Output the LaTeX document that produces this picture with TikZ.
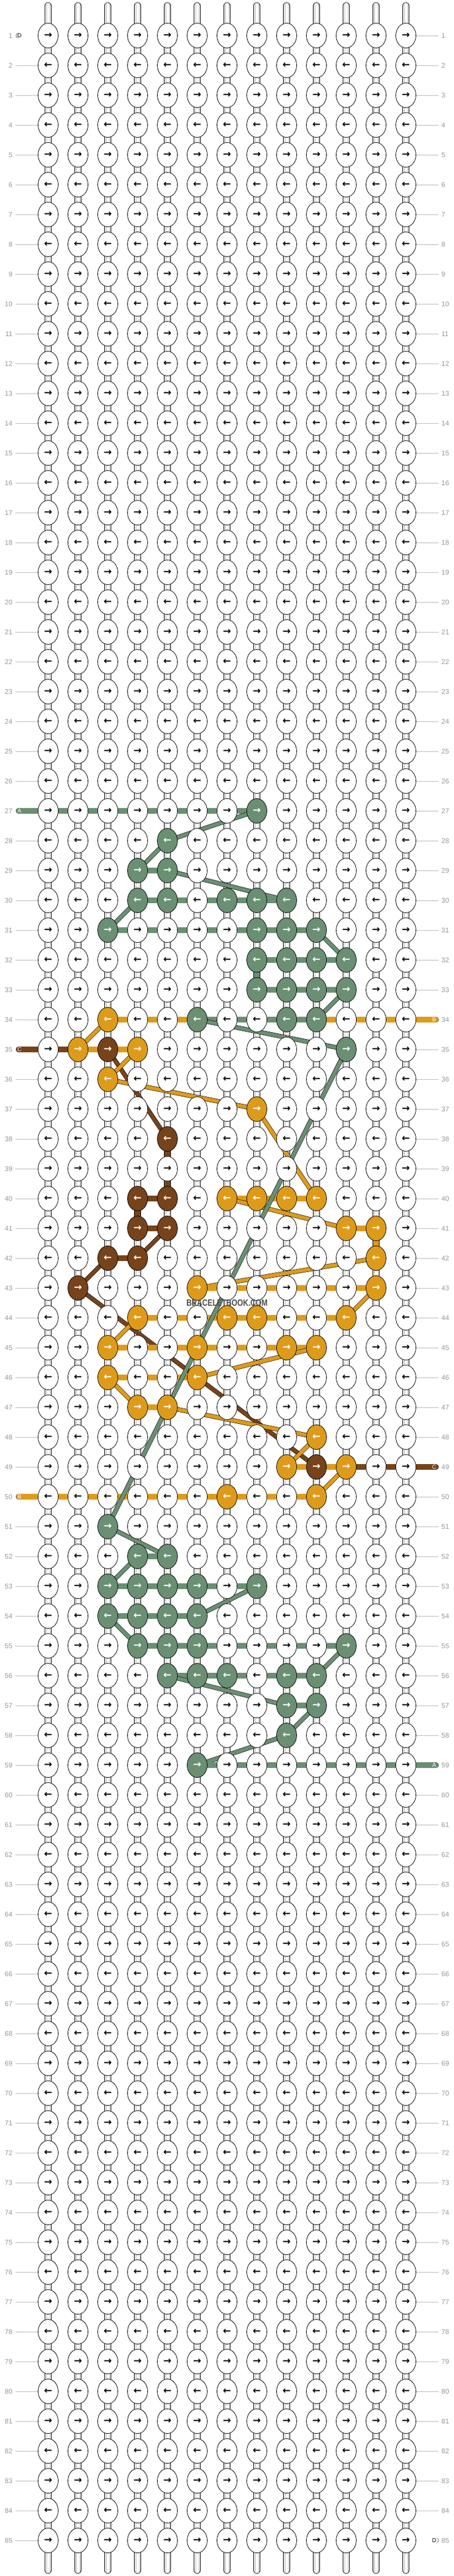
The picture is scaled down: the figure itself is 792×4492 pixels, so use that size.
\documentclass[tikz,border=0pt]{standalone}
\usepackage{fontspec}
\setmainfont{Liberation Sans}
\newfontfamily\arrowfont{DejaVu Sans}
\usetikzlibrary{shapes.geometric,backgrounds}

\definecolor{grn}{HTML}{6A8F73}
\definecolor{org}{HTML}{DE9B1A}
\definecolor{brn}{HTML}{76431B}
\definecolor{labgray}{HTML}{999999}
\definecolor{linegray}{HTML}{BBBBBB}
\definecolor{wm}{HTML}{4D4D4D}

\tikzset{knot/.style = {shape=ellipse,draw,line width=0.8pt,minimum width=35pt,minimum height=43pt,inner sep=0pt,fill=white,font=\arrowfont\bfseries\fontsize{17}{17}\selectfont}}
\tikzset{hbar/.style = {double=white,double distance=9.5pt,line width=0.6pt}}
\tikzset{vbar/.style = {double=white,double distance=10.5pt,line width=0.6pt,line cap=round}}
\tikzset{guide/.style = {draw=linegray,line width=0.8pt}}
\tikzset{rowlab/.style = {text=labgray,font=\fontsize{12}{12}\selectfont,inner sep=0pt}}
\tikzset{tag/.style = {font=\fontsize{10}{10}\selectfont,inner sep=0pt}}
\tikzset{tail/.style = {double=#1,double distance=9.5pt,line width=0.6pt,line cap=round}}

% one piece of a coloured thread, from knot to knot
\newcommand\threadseg[5]{%
  \ifnum#2=#4\relax\def\sw{9.5pt}\else\ifnum#3=#5\relax\def\sw{10.5pt}\else\def\sw{6.5pt}\fi\fi
  \draw[double=#1,double distance=\sw,line width=0.6pt] (k-#2-#3.center) -- (k-#4-#5.center);}

% coloured knots
\foreach \r/\c in {27/8,28/5,29/4,29/5,30/4,30/5,30/7,30/8,30/9,31/3,31/8,31/9,31/10,
  32/8,32/9,32/10,32/11,33/8,33/9,33/10,33/11,34/6,34/9,34/10,35/11,51/3,52/4,52/5,
  53/3,53/4,53/5,53/6,53/8,54/3,54/4,54/5,54/6,55/4,55/5,55/6,55/11,56/5,56/6,56/7,
  56/9,56/10,57/9,57/10,58/9,59/6}{\expandafter\gdef\csname kc-\r-\c\endcsname{grn}}
\foreach \r/\c in {34/3,35/2,35/4,36/3,37/8,40/7,40/8,40/9,40/10,41/11,41/12,42/12,
  43/6,43/12,44/4,44/7,44/8,44/11,45/3,45/6,45/9,45/10,46/3,46/6,47/4,47/5,48/10,
  49/9,49/11,50/7,50/10}{\expandafter\gdef\csname kc-\r-\c\endcsname{org}}
\foreach \r/\c in {35/3,38/5,40/4,40/5,41/4,41/5,42/3,42/4,43/2,49/10}%
  {\expandafter\gdef\csname kc-\r-\c\endcsname{brn}}

\begin{document}
\begin{tikzpicture}[x=1pt,y=-1pt]
\useasboundingbox (0,0) rectangle (792,4492);

% knots, row numbers
\foreach \r in {1,...,85}{
  \foreach \c in {1,...,13}{
    \ifcsname kc-\r-\c\endcsname
      \edef\kcol{\csname kc-\r-\c\endcsname}
      \node[knot,fill=\kcol,text=white] (k-\r-\c) at ({32+52*\c},{10+52*\r}) {\ifodd\r\relax→\else←\fi};
    \else
      \node[knot] (k-\r-\c) at ({32+52*\c},{10+52*\r}) {\ifodd\r\relax→\else←\fi};
    \fi
  }
  \node[rowlab,anchor=east] (nl-\r) at (22,{10+52*\r}) {\r};
  \node[rowlab,anchor=west] (nr-\r) at (770,{10+52*\r}) {\r};
  \coordinate (gl-\r) at (27,{10+52*\r});
  \coordinate (gr-\r) at (765,{10+52*\r});
  \coordinate (L-\r) at (33,{10+52*\r});
  \coordinate (R-\r) at (760,{10+52*\r});
}
\foreach \c in {1,...,13}{
  \coordinate (top-\c) at ({32+52*\c},10);
  \coordinate (bot-\c) at ({32+52*\c},4482);
}

% thread ends
\node[tag] (tag-d1) at ([xshift=1pt]L-1) {D};
\node[tag,text=white] (tag-a1) at ([xshift=1pt]L-27) {A};
\node[tag,text=white] (tag-c1) at ([xshift=1pt]L-35) {C};
\node[tag,text=white] (tag-b1) at ([xshift=1pt]L-50) {B};
\node[tag,text=white] (tag-b2) at ([xshift=-2.5pt]R-34) {B};
\node[tag,text=white] (tag-c2) at ([xshift=-2.5pt]R-49) {C};
\node[tag,text=white] (tag-a2) at ([xshift=-2.5pt]R-59) {A};
\node[tag] (tag-d2) at ([xshift=-2.5pt]R-85) {D};

\node[text=wm,font=\bfseries\fontsize{16}{16}\selectfont] (mark) at (396,2272) {\scalebox{0.8}[1]{BRACELETBOOK.COM}};

\begin{scope}[on background layer]
  \fill[white] (0,0) rectangle (792,4492);
  % guide lines
  \foreach \r in {1,...,85}{
    \pgfmathtruncatemacro\hasl{(\r==1)||(\r==27)||(\r==35)||(\r==50)}
    \pgfmathtruncatemacro\hasr{(\r==34)||(\r==49)||(\r==59)||(\r==85)}
    \ifnum\hasl=0 \draw[guide] (gl-\r) -- (k-\r-1.west);\fi
    \ifnum\hasr=0 \draw[guide] (k-\r-13.east) -- (gr-\r);\fi
  }
  % vertical strings
  \foreach \c in {1,...,13}{
    \draw[vbar] (top-\c) -- (bot-\c);
    \draw[linegray,line width=0.5pt] ([xshift=-3pt,yshift=3pt]top-\c) -- ([xshift=-3pt,yshift=-3pt]bot-\c);
    \draw[linegray,line width=0.5pt] ([xshift=3pt,yshift=3pt]top-\c) -- ([xshift=3pt,yshift=-3pt]bot-\c);
  }
  % rows
  \foreach \r in {1,...,85}
    \draw[hbar] (k-\r-1.center) -- (k-\r-13.center);
  \draw[tail=white] (L-1) -- (k-1-1.center);
  \draw[tail=white] (k-85-13.center) -- (R-85);

  % thread C
  \draw[tail=brn] (L-35) -- (k-35-1.center);
  \draw[tail=brn] (k-49-13.center) -- (R-49);
  \foreach \ra/\ca/\rb/\cb in {35/1/35/3,35/3/38/5,38/5/40/5,40/5/40/4,40/4/41/4,
    41/4/41/5,41/5/42/4,42/4/42/3,42/3/43/2,43/2/49/10,49/10/49/13}
    {\threadseg{brn}{\ra}{\ca}{\rb}{\cb}}

  % thread B
  \draw[tail=org] (k-34-13.center) -- (R-34);
  \draw[tail=org] (L-50) -- (k-50-1.center);
  \foreach \ra/\ca/\rb/\cb in {34/13/34/3,34/3/35/2,35/2/35/4,35/4/36/3,36/3/37/8,
    37/8/40/10,40/10/40/7,40/7/41/11,41/11/41/12,41/12/42/12,42/12/43/6,43/6/43/12,
    43/12/44/11,44/11/44/4,44/4/45/3,45/3/45/10,45/10/46/6,46/6/46/3,46/3/47/4,
    47/4/47/5,47/5/48/10,48/10/49/9,49/9/49/11,49/11/50/10,50/10/50/1}
    {\threadseg{org}{\ra}{\ca}{\rb}{\cb}}

  % thread A
  \draw[tail=grn] (L-27) -- (k-27-1.center);
  \draw[tail=grn] (k-59-13.center) -- (R-59);
  \foreach \ra/\ca/\rb/\cb in {27/1/27/8,27/8/28/5,28/5/29/4,29/4/29/5,29/5/30/9,
    30/9/30/4,30/4/31/3,31/3/31/10,31/10/32/11,32/11/32/8,32/8/33/8,33/8/33/11,
    33/11/34/10,34/10/34/6,34/6/35/11,35/11/51/3,51/3/52/5,52/5/52/4,52/4/53/3,
    53/3/53/8,53/8/54/6,54/6/54/3,54/3/55/4,55/4/55/11,55/11/56/10,56/10/56/5,
    56/5/57/9,57/9/57/10,57/10/58/9,58/9/59/6,59/6/59/13}
    {\threadseg{grn}{\ra}{\ca}{\rb}{\cb}}
\end{scope}
\end{tikzpicture}
\end{document}
